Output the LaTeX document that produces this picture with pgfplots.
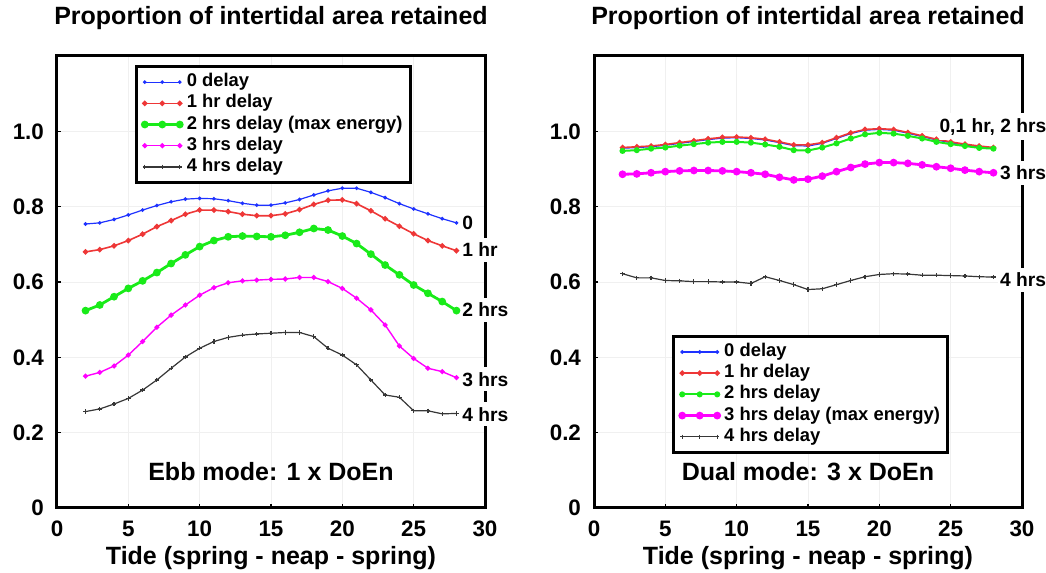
\documentclass[border=0pt]{standalone}
\usepackage{pgfplots}
\usepackage{pgfplotstable}
\pgfplotsset{compat=1.18}
\usepackage{fontspec}
\setmainfont{Liberation Sans}
\definecolor{cblue}{RGB}{30,50,255}
\definecolor{cred}{RGB}{238,55,55}
\definecolor{cgreen}{RGB}{25,235,25}
\definecolor{cmag}{RGB}{255,0,255}
\definecolor{cblack}{RGB}{55,55,55}

\pgfplotstableread{
x  b     r     g     m     k
2  0.754 0.680 0.524 0.350 0.256
3  0.757 0.686 0.539 0.360 0.263
4  0.766 0.696 0.561 0.377 0.276
5  0.778 0.710 0.583 0.406 0.291
6  0.791 0.727 0.603 0.442 0.313
7  0.803 0.747 0.625 0.480 0.340
8  0.813 0.763 0.649 0.512 0.371
9  0.820 0.780 0.672 0.539 0.401
10 0.822 0.791 0.694 0.565 0.424
11 0.821 0.791 0.710 0.585 0.442
12 0.816 0.787 0.720 0.598 0.453
13 0.809 0.780 0.722 0.603 0.459
14 0.804 0.776 0.721 0.605 0.462
15 0.804 0.776 0.720 0.607 0.464
16 0.810 0.781 0.724 0.608 0.466
17 0.819 0.792 0.732 0.612 0.466
18 0.831 0.806 0.742 0.612 0.455
19 0.842 0.817 0.738 0.601 0.424
20 0.849 0.818 0.722 0.583 0.406
21 0.849 0.808 0.702 0.557 0.380
22 0.838 0.789 0.674 0.526 0.340
23 0.824 0.768 0.645 0.486 0.300
24 0.808 0.748 0.619 0.430 0.294
25 0.794 0.728 0.592 0.397 0.258
26 0.781 0.710 0.570 0.371 0.258
27 0.768 0.696 0.548 0.362 0.250
28 0.757 0.683 0.524 0.346 0.251
}\leftdata

\pgfplotstableread{
x  b     r     g     m     k
2  0.955 0.957 0.948 0.886 0.622
3  0.957 0.959 0.950 0.887 0.611
4  0.959 0.961 0.954 0.890 0.611
5  0.963 0.965 0.957 0.893 0.604
6  0.968 0.970 0.962 0.895 0.603
7  0.973 0.975 0.966 0.896 0.601
8  0.978 0.980 0.970 0.896 0.601
9  0.982 0.984 0.972 0.895 0.600
10 0.983 0.985 0.972 0.893 0.600
11 0.981 0.983 0.970 0.890 0.596
12 0.977 0.979 0.965 0.886 0.614
13 0.970 0.972 0.959 0.878 0.604
14 0.962 0.964 0.950 0.871 0.593
15 0.961 0.964 0.949 0.873 0.580
16 0.968 0.970 0.957 0.881 0.582
17 0.981 0.983 0.968 0.893 0.593
18 0.994 0.996 0.981 0.904 0.604
19 1.003 1.005 0.992 0.913 0.614
20 1.005 1.007 0.996 0.917 0.620
21 1.003 1.005 0.994 0.917 0.622
22 0.995 0.997 0.988 0.915 0.621
23 0.986 0.988 0.981 0.911 0.618
24 0.977 0.979 0.972 0.906 0.618
25 0.970 0.972 0.966 0.902 0.617
26 0.964 0.966 0.961 0.897 0.616
27 0.959 0.961 0.956 0.893 0.614
28 0.955 0.957 0.954 0.890 0.613
}\rightdata

\pgfplotsset{
 panel/.style={
  scale only axis, width=214pt, height=226pt,
  xmin=0, xmax=30, ymin=0, ymax=1.2,
  xtick={0,5,...,30}, ytick={0,0.2,0.4,0.6,0.8,1.0},
  yticklabels={0,0.2,0.4,0.6,0.8,1.0},
  axis line style={line width=1.5pt},
  tick style={black, line width=0.6pt},
  major tick length=2pt,
  tick align=inside,
  xtick pos=bottom, ytick pos=left,
  grid=major, major grid style={gray!12, line width=0.4pt},
  tick label style={font=\bfseries\fontsize{11.2}{13}\selectfont},
  /pgf/number format/assume math mode=true,
  yticklabel style={xshift=-3pt},
  xticklabel style={yshift=-3pt},
  xlabel={Tide (spring - neap - spring)},
  xlabel style={font=\bfseries\fontsize{12.5}{15}\selectfont, at={(0.5,0)}, anchor=base, yshift=-28.5pt},
  title={Proportion of intertidal area retained},
  title style={font=\bfseries\fontsize{12.5}{15}\selectfont, at={(0.5,1)}, anchor=base, yshift=9.5pt},
  clip=false,
  legend cell align=left,
  legend style={draw=black, line width=1.5pt, inner xsep=3pt, inner ysep=2.5pt, column sep=1.5pt,
    font=\bfseries\fontsize{9.2}{10}\selectfont,
    nodes={inner sep=0.8pt, text height=6.8pt, text depth=2.2pt}},
  legend image code/.code={\draw[mark repeat=1,mark phase=1,#1] plot coordinates {(0pt,0pt) (8.75pt,0pt) (17.5pt,0pt)};},
 },
}
\tikzset{
 endlab/.style={anchor=west, fill=white, inner xsep=1pt, inner ysep=2.5pt, font=\bfseries\fontsize{9.6}{11}\selectfont},
 modelab/.style={anchor=base, font=\bfseries\fontsize{12.5}{15}\selectfont},
}

\begin{document}
\begin{tikzpicture}
\path[use as bounding box] (0,0) rectangle (523pt,286.5pt);

\begin{axis}[panel, at={(28.5pt,32.5pt)}, anchor=south west,
  legend style={at={(0.182,0.98)}, anchor=north west}]
\addplot[cblue, line width=0.6pt, mark=*, mark size=0.6pt] table[x=x,y=b]{\leftdata};
\addlegendentry{0 delay}
\addplot[cred, line width=0.8pt, mark=*, mark size=0.95pt] table[x=x,y=r]{\leftdata};
\addlegendentry{1 hr delay}
\addplot[cgreen, line width=1.4pt, mark=*, mark size=1.2pt] table[x=x,y=g]{\leftdata};
\addlegendentry{2 hrs delay (max energy)}
\addplot[cmag, line width=0.7pt, mark=*, mark size=0.9pt] table[x=x,y=m]{\leftdata};
\addlegendentry{3 hrs delay}
\addplot[cblack, line width=0.6pt, mark=+, mark size=1.1pt] table[x=x,y=k]{\leftdata};
\addlegendentry{4 hrs delay}
\node[endlab] at (axis cs:28.25,0.757) {0};
\node[endlab] at (axis cs:28.25,0.686) {1 hr};
\node[endlab] at (axis cs:28.25,0.526) {2 hrs};
\node[endlab] at (axis cs:28.25,0.342) {3 hrs};
\node[endlab] at (axis cs:28.25,0.249) {4 hrs};
\node[modelab] at (axis cs:15,0.072) {Ebb mode: 1 x DoEn};
\end{axis}

\begin{axis}[panel, at={(297pt,32.5pt)}, anchor=south west,
  legend style={at={(0.183,0.383)}, anchor=north west}]
\addplot[cblue, line width=0.6pt, mark=*, mark size=0.6pt] table[x=x,y=b]{\rightdata};
\addlegendentry{0 delay}
\addplot[cred, line width=0.8pt, mark=*, mark size=0.95pt] table[x=x,y=r]{\rightdata};
\addlegendentry{1 hr delay}
\addplot[cgreen, line width=1.0pt, mark=*, mark size=1.0pt] table[x=x,y=g]{\rightdata};
\addlegendentry{2 hrs delay}
\addplot[cmag, line width=1.4pt, mark=*, mark size=1.2pt] table[x=x,y=m]{\rightdata};
\addlegendentry{3 hrs delay (max energy)}
\addplot[cblack, line width=0.6pt, mark=+, mark size=1.1pt] table[x=x,y=k]{\rightdata};
\addlegendentry{4 hrs delay}
\node[endlab] at (axis cs:24.05,1.012) {0,1 hr, 2 hrs};
\node[endlab] at (axis cs:28.3,0.890) {3 hrs};
\node[endlab] at (axis cs:28.3,0.605) {4 hrs};
\node[modelab] at (axis cs:15,0.072) {Dual mode: 3 x DoEn};
\end{axis}
\end{tikzpicture}
\end{document}
